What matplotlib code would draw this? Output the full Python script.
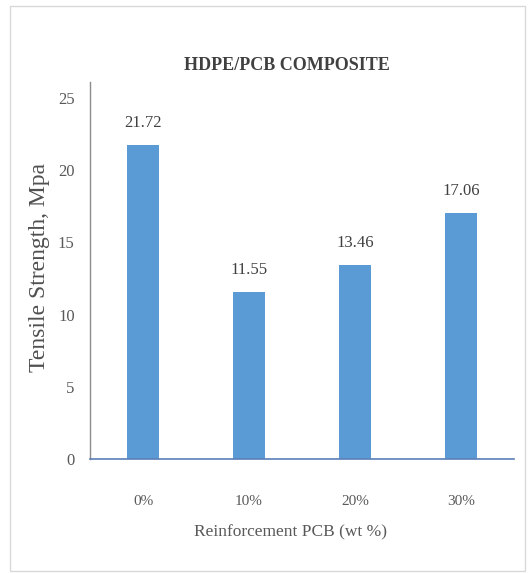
import matplotlib.pyplot as plt
from matplotlib.patches import Rectangle

categories = ["0%", "10%", "20%", "30%"]
tensile_strength = [21.72, 11.55, 13.46, 17.06]
y_ticks = [0, 5, 10, 15, 20, 25]

W, H = 528, 573
fig = plt.figure(figsize=(W / 100, H / 100), dpi=100)
fig.patch.set_facecolor("white")

serif = ["Liberation Serif", "DejaVu Serif"]
tick_gray = "#595959"

# chart-area frame
fig.patches.append(Rectangle((10 / W, 1 - 571 / H), 515 / W, 565 / H,
                             transform=fig.transFigure, fill=False,
                             edgecolor="#d9d9d9", linewidth=1.0))

ax = fig.add_axes([90 / W, 1 - 459 / H, 424 / W, 377 / H])
x = range(len(categories))
bars = ax.bar(x, tensile_strength, width=0.31, color="#5b9bd5", zorder=2)

ax.set_xlim(-0.5, 3.5)
ax.set_ylim(0, 26.1)
ax.set_yticks(y_ticks)
ax.set_xticks(list(x))
ax.set_xticklabels(categories)

for spine in ("top", "right"):
    ax.spines[spine].set_visible(False)
ax.spines["left"].set_color("#8c8c8c")
ax.spines["left"].set_linewidth(1.0)
ax.spines["bottom"].set_color("#5b7fb8")
ax.spines["bottom"].set_linewidth(1.2)

ax.tick_params(axis="both", length=0, colors=tick_gray)
ax.tick_params(axis="y", pad=11)
ax.tick_params(axis="x", pad=26)
for lab in ax.get_yticklabels():
    lab.set_family(serif)
    lab.set_fontsize(12)
for lab in ax.get_xticklabels():
    lab.set_family(serif)
    lab.set_fontsize(11)

for rect, v in zip(bars, tensile_strength):
    ax.annotate(f"{v:.2f}", (rect.get_x() + rect.get_width() / 2, v),
                xytext=(0, 22), textcoords="offset pixels",
                ha="center", va="center", fontsize=12,
                family=serif, color="#404040")

fig.text(287 / W, 1 - 65 / H, "HDPE/PCB COMPOSITE", ha="center", va="center",
         fontsize=13, fontweight="bold", family=serif, color="#404040")
fig.text(291 / W, 1 - 532 / H, "Reinforcement PCB (wt %)", ha="center",
         va="center", fontsize=12.5, family=serif, color=tick_gray)
fig.text(40 / W, 1 - 268 / H, "Tensile Strength, Mpa", ha="center",
         va="center", rotation=90, fontsize=17, family=serif, color="#505050")

fig.savefig("out.png", dpi=100, facecolor="white")
